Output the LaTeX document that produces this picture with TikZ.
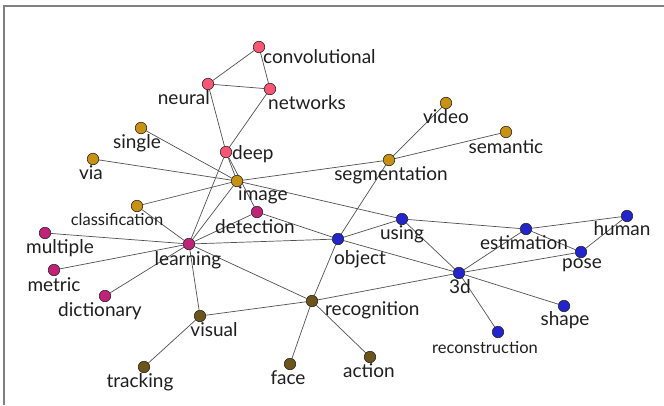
\documentclass[tikz,border=0pt]{standalone}
\usepackage{fontspec}
\setmainfont{Lato}
\definecolor{pinkc}{RGB}{252,86,116}
\definecolor{goldc}{RGB}{200,145,18}
\definecolor{magc}{RGB}{192,34,122}
\definecolor{brownc}{RGB}{108,84,26}
\definecolor{bluec}{RGB}{36,36,205}
\definecolor{framec}{RGB}{128,128,128}
\definecolor{edgec}{RGB}{80,80,80}
\definecolor{textc}{RGB}{30,30,30}
\pgfdeclarelayer{bg}
\pgfsetlayers{bg,main}
\begin{document}
\begin{tikzpicture}[x=1pt,y=-1pt,
  vtx/.style={circle,draw=black!85,line width=0.6pt,minimum size=11.5pt,inner sep=0pt},
  pk/.style={vtx,fill=pinkc},
  gd/.style={vtx,fill=goldc},
  mg/.style={vtx,fill=magc},
  br/.style={vtx,fill=brownc},
  bl/.style={vtx,fill=bluec},
  lbl/.style={anchor=base,inner sep=0pt,text=textc,font=\fontsize{19}{19}\selectfont},
  lblw/.style={lbl,anchor=base west},
  lble/.style={lbl,anchor=base east},
  sml/.style={lbl,font=\fontsize{16.5}{16.5}\selectfont},
  edge/.style={draw=edgec,line width=0.7pt},
  framel/.style={draw=framec,line width=1.6pt}
]
\useasboundingbox (0,0) rectangle (664,405);
\coordinate (fa) at (4,405);
\coordinate (fb) at (4,6);
\coordinate (fc) at (664,6);
\draw[framel] (fa) -- (fb) -- (fc);

% vertices
\node[pk] (conv) at (259,47) {};
\node[pk] (neural) at (208,84) {};
\node[pk] (networks) at (270,89) {};
\node[pk] (deep) at (226,152) {};
\node[gd] (single) at (141,128) {};
\node[gd] (via) at (93,159) {};
\node[gd] (image) at (237,181) {};
\node[gd] (video) at (446,103) {};
\node[gd] (semantic) at (506,132) {};
\node[gd] (segmentation) at (389,160) {};
\node[gd] (classification) at (137,206) {};
\node[mg] (detection) at (257,212) {};
\node[mg] (multiple) at (45,233) {};
\node[mg] (learning) at (189,244) {};
\node[mg] (metric) at (54,270) {};
\node[mg] (dictionary) at (105,296) {};
\node[br] (visual) at (200,316) {};
\node[br] (tracking) at (144,367) {};
\node[br] (face) at (290,364) {};
\node[br] (recognition) at (312,301) {};
\node[br] (action) at (370,357) {};
\node[bl] (object) at (338,239) {};
\node[bl] (using) at (402,219) {};
\node[bl] (threed) at (459,273) {};
\node[bl] (estimation) at (526,229) {};
\node[bl] (human) at (627,216) {};
\node[bl] (pose) at (581,252) {};
\node[bl] (shape) at (564,306) {};
\node[bl] (reconstruction) at (498,332) {};

% labels
\node[lblw] (t-conv) at (263,63) {convolutional};
\node[lble] (t-neural) at (210,104) {neural};
\node[lblw] (t-networks) at (268,109) {networks};
\node[lblw] (t-deep) at (232,159) {deep};
\node[lbl] (t-single) at (137,148) {single};
\node[lbl] (t-via) at (91,179) {via};
\node[lblw] (t-image) at (238,200) {image};
\node[lbl] (t-video) at (446,123) {video};
\node[lbl] (t-semantic) at (506,153) {semantic};
\node[lbl] (t-segmentation) at (391,180) {segmentation};
\node[sml] (t-classification) at (117,225) {classification};
\node[lbl] (t-detection) at (255,233) {detection};
\node[lbl] (t-multiple) at (60,253) {multiple};
\node[lbl] (t-learning) at (188,265) {learning};
\node[lbl] (t-metric) at (54,291) {metric};
\node[lbl] (t-dictionary) at (100,316) {dictionary};
\node[lbl] (t-visual) at (214,336) {visual};
\node[lbl] (t-tracking) at (140,387) {tracking};
\node[lbl] (t-face) at (288,384) {face};
\node[lblw] (t-recognition) at (325,315) {recognition};
\node[lbl] (t-action) at (369,377) {action};
\node[lbl] (t-object) at (360,264) {object};
\node[lbl] (t-using) at (402,239) {using};
\node[lbl] (t-threed) at (460,293) {3d};
\node[lbl] (t-estimation) at (524,249) {estimation};
\node[lbl] (t-human) at (622,235) {human};
\node[lbl] (t-pose) at (582,268) {pose};
\node[lbl] (t-shape) at (565,325) {shape};
\node[sml] (t-reconstruction) at (485,353) {reconstruction};

% edges
\begin{pgfonlayer}{bg}
\draw[edge] (conv) -- (neural);
\draw[edge] (conv) -- (networks);
\draw[edge] (neural) -- (networks);
\draw[edge] (neural) -- (deep);
\draw[edge] (networks) -- (deep);
\draw[edge] (deep) -- (image);
\draw[edge] (deep) -- (detection);
\draw[edge] (deep) -- (learning);
\draw[edge] (single) -- (image);
\draw[edge] (via) -- (image);
\draw[edge] (image) -- (segmentation);
\draw[edge] (image) -- (classification);
\draw[edge] (image) -- (learning);
\draw[edge] (image) -- (using);
\draw[edge] (segmentation) -- (video);
\draw[edge] (segmentation) -- (semantic);
\draw[edge] (segmentation) -- (object);
\draw[edge] (learning) -- (classification);
\draw[edge] (learning) -- (multiple);
\draw[edge] (learning) -- (metric);
\draw[edge] (learning) -- (dictionary);
\draw[edge] (learning) -- (detection);
\draw[edge] (learning) -- (object);
\draw[edge] (learning) -- (visual);
\draw[edge] (learning) -- (recognition);
\draw[edge] (detection) -- (object);
\draw[edge] (visual) -- (tracking);
\draw[edge] (visual) -- (recognition);
\draw[edge] (recognition) -- (face);
\draw[edge] (recognition) -- (action);
\draw[edge] (recognition) -- (object);
\draw[edge] (recognition) -- (threed);
\draw[edge] (object) -- (using);
\draw[edge] (object) -- (threed);
\draw[edge] (using) -- (threed);
\draw[edge] (using) -- (estimation);
\draw[edge] (estimation) -- (human);
\draw[edge] (estimation) -- (pose);
\draw[edge] (estimation) -- (threed);
\draw[edge] (pose) -- (human);
\draw[edge] (pose) -- (threed);
\draw[edge] (threed) -- (shape);
\draw[edge] (threed) -- (reconstruction);
\end{pgfonlayer}
\end{tikzpicture}
\end{document}
